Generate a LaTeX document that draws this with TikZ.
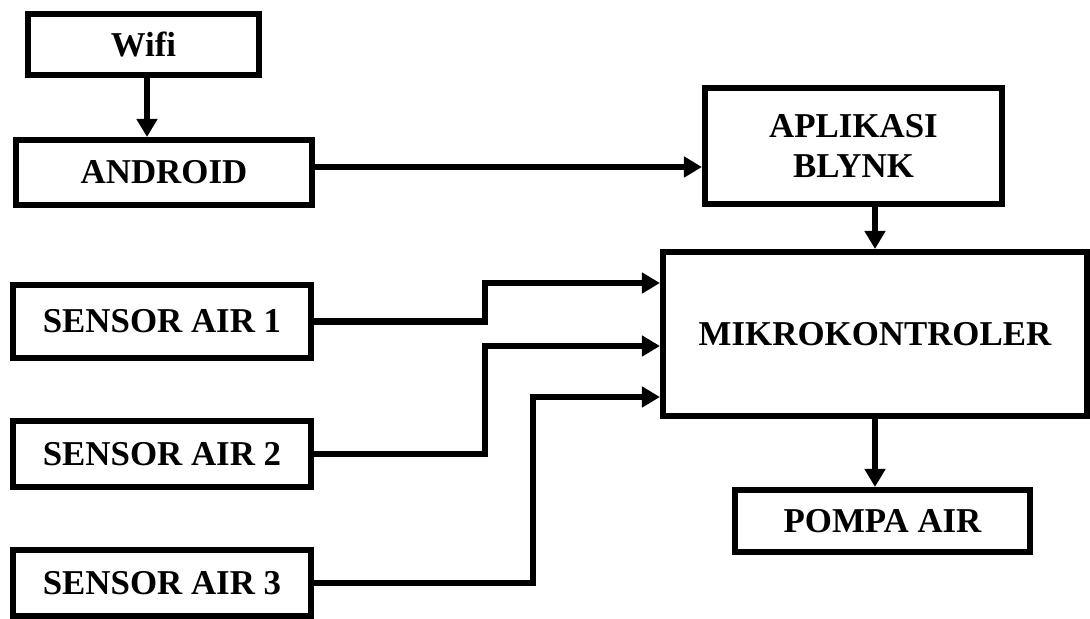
\documentclass[tikz,border=0pt]{standalone}
\usepackage{fontspec}
\setmainfont{Liberation Serif}
\usetikzlibrary{arrows.meta}

\begin{document}
\begin{tikzpicture}[x=1cm,y=1cm,
    blok/.style={draw,line width=4.3pt,inner sep=0pt,align=center,
      font=\fontsize{24.8}{28.5}\selectfont\bfseries},
    panah/.style={line width=4.3pt,-{Triangle[length=0.45cm,width=0.5cm]}}]
  \useasboundingbox (0,0) rectangle (27.25,-15.475);
  \node[blok,minimum width=5.775cm,minimum height=1.525cm] (wifi) at (3.5875,-1.1125) {Wifi};
  \node[blok,minimum width=7.4cm,minimum height=1.625cm] (android) at (4.1,-4.3125) {ANDROID};
  \node[blok,minimum width=7.425cm,minimum height=2.9cm] (blynk) at (21.3375,-3.65) {APLIKASI\\BLYNK};
  \node[blok,minimum width=10.6cm,minimum height=4.1cm] (mikro) at (21.875,-8.35) {MIKROKONTROLER};
  \node[blok,minimum width=7.375cm,minimum height=1.55cm] (pompa) at (22.0625,-13.025) {POMPA AIR};
  \node[blok,minimum width=7.45cm,minimum height=1.825cm] (s1) at (4.05,-8.0375) {SENSOR AIR 1};
  \node[blok,minimum width=7.45cm,minimum height=1.65cm] (s2) at (4.05,-11.35) {SENSOR AIR 2};
  \node[blok,minimum width=7.45cm,minimum height=1.65cm] (s3) at (4.05,-14.575) {SENSOR AIR 3};
  % titik masuk mikrokontroler
  \coordinate (m1) at ([yshift=1.275cm]mikro.west);
  \coordinate (m2) at ([yshift=-0.3cm]mikro.west);
  \coordinate (m3) at ([yshift=-1.575cm]mikro.west);
  \draw[panah] (wifi.south -| 3.675,0) -- (android.north -| 3.675,0);
  \draw[panah] ([yshift=0.1375cm]android.east) -- ([yshift=0.1375cm]android.east -| blynk.west);
  \draw[panah] (blynk.south -| mikro.north) -- (mikro.north);
  \draw[panah] (mikro.south) -- (mikro.south |- pompa.north);
  \draw[panah] (s1.east) -- ++(4.275,0) |- (m1);
  \draw[panah] (s2.east) -- ++(4.275,0) |- (m2);
  \draw[panah] (s3.east) -- ++(5.475,0) |- (m3);
\end{tikzpicture}
\end{document}
